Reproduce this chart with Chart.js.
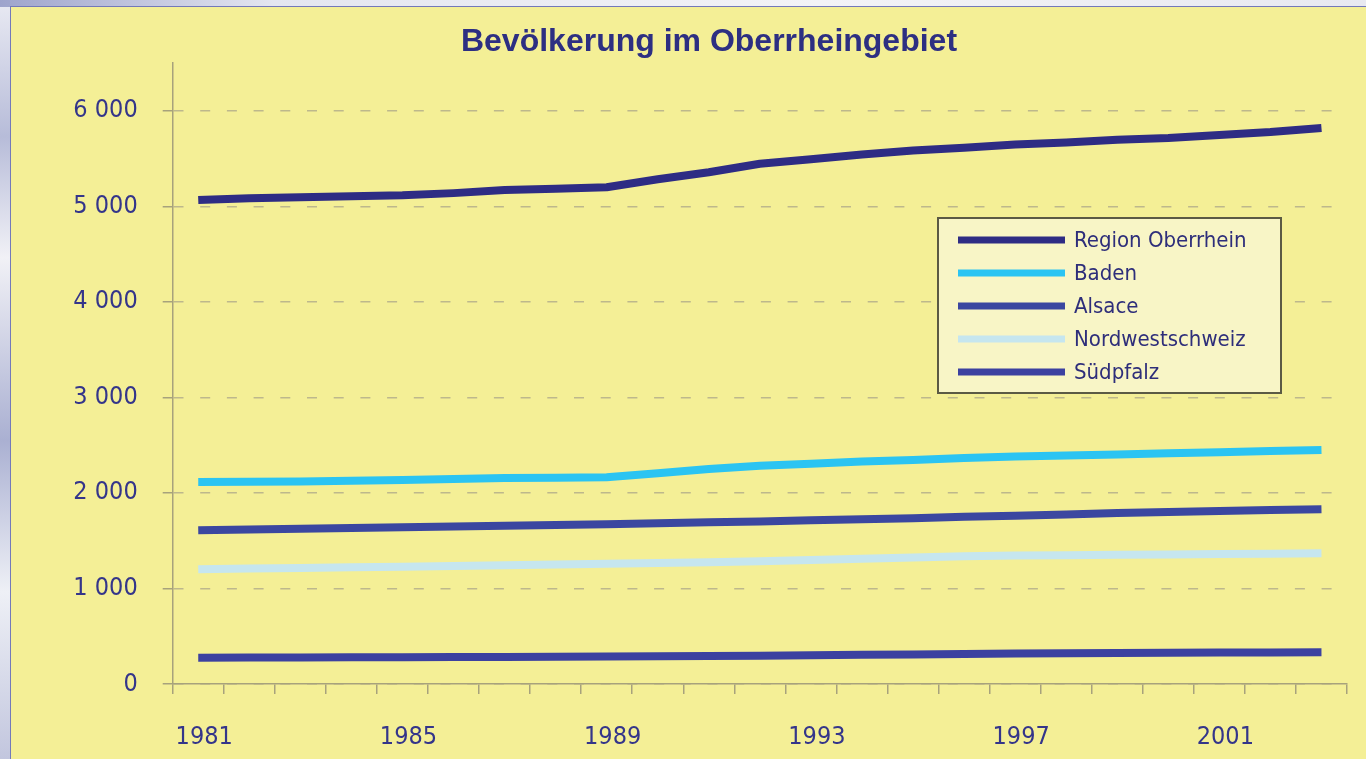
<!DOCTYPE html>
<html>
<head>
<meta charset="utf-8">
<script src="https://cdn.jsdelivr.net/npm/chart.js@4.4.0/dist/chart.umd.min.js"></script>
<style>
html,body{margin:0;padding:0;width:1366px;height:759px;overflow:hidden;}
body{background:linear-gradient(180deg,#e9eaf3 0%,#b7bcd9 18%,#f1f1f6 34%,#aab0d2 58%,#eef0f6 78%,#c2c6de 100%);}
#topstrip{position:absolute;left:0;top:0;width:1366px;height:7px;background:linear-gradient(90deg,#9ea4cc 0%,#e4e6f0 20%,#f3f3f7 60%,#e8e9f1 100%);}
#panel{position:absolute;left:10px;top:6px;width:1356px;height:753px;background:#f4ef96;border-left:1px solid #7379b9;border-top:1px solid #7379b9;box-sizing:border-box;}
#wrap{position:absolute;left:11px;top:8px;width:1355px;height:751px;}
</style>
</head>
<body>
<div id="topstrip"></div>
<div id="panel"></div>
<div id="wrap"><canvas id="c"></canvas></div>
<script>
// ---- data ----
const years = ['1981','1982','1983','1984','1985','1986','1987','1988','1989','1990','1991','1992',
               '1993','1994','1995','1996','1997','1998','1999','2000','2001','2002','2003'];
const xTickLabels = ['1981','1985','1989','1993','1997','2001'];
const yTickValues = [0, 1000, 2000, 3000, 4000, 5000, 6000];
const yTickLabels = ['0', '1 000', '2 000', '3 000', '4 000', '5 000', '6 000'];
const seriesNames = ['Region Oberrhein', 'Baden', 'Alsace', 'Nordwestschweiz', 'Südpfalz'];

const regionOberrhein = [5065,5085,5095,5105,5115,5138,5170,5185,5200,5283,5357,5445,
                         5492,5542,5584,5613,5646,5668,5696,5715,5746,5777,5820];
const baden           = [2115,2117,2120,2127,2135,2145,2155,2160,2165,2205,2250,2285,
                         2305,2328,2345,2365,2380,2393,2402,2415,2426,2438,2450];
const alsace          = [1610,1618,1625,1632,1640,1648,1657,1665,1673,1682,1692,1702,
                         1713,1724,1736,1750,1762,1775,1790,1800,1810,1820,1830];
const nordwestschweiz = [1200,1208,1215,1222,1228,1235,1243,1250,1258,1266,1275,1285,
                         1298,1312,1325,1338,1344,1348,1352,1356,1360,1364,1368];
const suedpfalz       = [276,277,278,279,280,282,283,285,288,291,294,297,
                         300,305,310,315,320,323,325,327,329,331,332];

const seriesValues = [regionOberrhein, baden, alsace, nordwestschweiz, suedpfalz];
const seriesColors = ['#2e2c84', '#2bc4f2', '#3b47a0', '#c6e6ef', '#3c41a0'];

// ---- styles ----
const NARROW = '"Liberation Sans Narrow", "Arial Narrow", "DejaVu Sans Condensed", "Liberation Sans", sans-serif';
const TEXT = '#34358a';
const AXIS = '#a7a27c';
const GRID = '#bdb88c';

const boxLegend = {
  id: 'boxLegend',
  afterDatasetsDraw(chart, args, o) {
    const {ctx, chartArea: a} = chart;
    const x = Math.round(a.left + o.x * (a.right - a.left));
    const y = Math.round(a.top + o.y * (a.bottom - a.top));
    ctx.save();
    ctx.fillStyle = o.background;
    ctx.fillRect(x, y, o.width, o.height);
    ctx.lineWidth = 2;
    ctx.strokeStyle = o.borderColor;
    ctx.strokeRect(x, y, o.width, o.height);
    ctx.font = o.font;
    ctx.textBaseline = 'middle';
    ctx.textAlign = 'left';
    chart.data.datasets.forEach((ds, i) => {
      const cy = y + o.firstRow + i * o.rowGap;
      ctx.strokeStyle = ds.borderColor;
      ctx.lineWidth = o.sampleWidth;
      ctx.lineCap = 'butt';
      ctx.beginPath();
      ctx.moveTo(x + o.sampleStart, cy);
      ctx.lineTo(x + o.sampleEnd, cy);
      ctx.stroke();
      ctx.fillStyle = o.color;
      ctx.fillText(ds.label, x + o.textStart, cy + 1);
    });
    ctx.restore();
  }
};

new Chart(document.getElementById('c'), {
  type: 'line',
  data: {
    labels: years,
    datasets: seriesNames.map((name, i) => ({
      label: name,
      data: seriesValues[i],
      borderColor: seriesColors[i],
      backgroundColor: seriesColors[i],
      borderWidth: 8,
      borderCapStyle: 'butt',
      borderJoinStyle: 'round',
      pointRadius: 0,
      tension: 0,
      fill: false
    }))
  },
  plugins: [boxLegend],
  options: {
    responsive: true,
    maintainAspectRatio: false,
    animation: false,
    events: [],
    layout: { padding: { left: 60, right: 19, top: 0, bottom: 0 } },
    plugins: {
      legend: { display: false },
      tooltip: { enabled: false },
      title: {
        display: true,
        text: 'Bevölkerung im Oberrheingebiet',
        color: '#2d2f82',
        font: { family: '"Liberation Sans", Arial, sans-serif', size: 32, weight: 'bold' },
        padding: { top: 15, bottom: 1.6 }
      },
      boxLegend: {
        x: 0.652, y: 0.2496, width: 343, height: 175,
        firstRow: 22, rowGap: 33, sampleStart: 20, sampleEnd: 127, textStart: 136,
        sampleWidth: 7, background: '#f8f5c6', borderColor: '#5b5a44',
        color: '#2e2e7a', font: '22px ' + NARROW
      }
    },
    scales: {
      x: {
        type: 'category',
        offset: true,
        afterFit: (s) => { s.height = 75; },
        grid: { offset: true, drawOnChartArea: false, drawTicks: true, tickLength: 10, tickColor: AXIS, color: AXIS, lineWidth: 1.5 },
        border: { display: true, color: AXIS, width: 1.5 },
        ticks: {
          autoSkip: false, maxRotation: 0, minRotation: 0, padding: 28, labelOffset: 6,
          color: TEXT, font: { family: NARROW, size: 25 },
          callback: function(v, i) { const l = years[i]; return xTickLabels.includes(l) ? l : ''; }
        }
      },
      y: {
        min: 0, max: 6500,
        afterBuildTicks: (s) => { s.ticks = yTickValues.map(v => ({ value: v })); },
        afterFit: (s) => { s.width = 101.7; },
        grid: { drawTicks: true, tickLength: 10, tickColor: AXIS, color: GRID, lineWidth: 1.5, tickBorderDash: [] },
        border: { display: true, color: AXIS, width: 1.5, dash: [10, 16.7] },
        ticks: {
          padding: 25, color: TEXT, font: { family: NARROW, size: 25 },
          callback: (v) => { const k = yTickValues.indexOf(v); return k >= 0 ? yTickLabels[k] : ''; }
        }
      }
    }
  }
});
</script>
</body>
</html>
